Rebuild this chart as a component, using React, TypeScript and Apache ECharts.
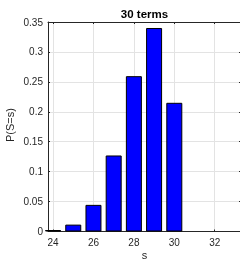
import React, { useEffect, useRef } from "react";
import * as echarts from "echarts";

const sValues = [24, 25, 26, 27, 28, 29, 30];
const probabilities = [0.0025, 0.0115, 0.0445, 0.127, 0.2595, 0.34, 0.215];
const xTickValues = [24, 26, 28, 30, 32];
const titleText = "30 terms";
const xLabel = "s";
const yLabel = "P(S=s)";

const AXIS_COLOR = "#262626";
const GRID_COLOR = "#e3e3e3";
const FONT = "Liberation Sans, Arial, Helvetica, sans-serif";
const X_MIN = 23.75;
const X_MAX = 33.35;

export default function App() {
  const ref = useRef<HTMLDivElement>(null);
  useEffect(() => {
    if (!ref.current) return;
    const chart = echarts.init(ref.current, null, { renderer: "svg" });
    const gridLeft = 48;
    const gridTop = 22;
    const gridWidth = 194;
    const gridHeight = 209.5;
    chart.setOption({
      animation: false,
      textStyle: { fontFamily: FONT },
      grid: {
        left: gridLeft,
        top: gridTop,
        width: gridWidth,
        height: gridHeight,
        containLabel: false,
        outerBoundsMode: "none",
      },
      xAxis: [
        {
          type: "value",
          min: X_MIN,
          max: X_MAX,
          position: "bottom",
          axisLine: { show: true, onZero: false, lineStyle: { color: AXIS_COLOR, width: 1 } },
          axisTick: { show: true, inside: true, length: 2, customValues: xTickValues, lineStyle: { color: AXIS_COLOR } },
          axisLabel: { customValues: xTickValues, color: AXIS_COLOR, fontSize: 10, margin: 6, fontFamily: FONT },
          splitLine: { show: false },
        },
        {
          type: "value",
          min: X_MIN,
          max: X_MAX,
          position: "top",
          axisLine: { show: true, onZero: false, lineStyle: { color: AXIS_COLOR, width: 1 } },
          axisTick: { show: true, inside: true, length: 2, customValues: xTickValues, lineStyle: { color: AXIS_COLOR } },
          axisLabel: { show: false },
          splitLine: { show: false },
        },
      ],
      yAxis: [
        {
          type: "value",
          min: 0,
          max: 0.35,
          interval: 0.05,
          position: "left",
          axisLine: { show: true, onZero: false, lineStyle: { color: AXIS_COLOR, width: 1 } },
          axisTick: { show: true, inside: true, length: 2, lineStyle: { color: AXIS_COLOR } },
          axisLabel: {
            color: AXIS_COLOR,
            fontSize: 10,
            margin: 5,
            fontFamily: FONT,
            formatter: (v: number) => String(+v.toFixed(2)),
          },
          splitLine: { show: true, lineStyle: { color: GRID_COLOR, width: 1 } },
        },
        {
          type: "value",
          min: 0,
          max: 0.35,
          interval: 0.05,
          position: "right",
          axisLine: { show: false },
          axisTick: { show: true, inside: true, length: 3, lineStyle: { color: AXIS_COLOR } },
          axisLabel: { show: false },
          splitLine: { show: false },
        },
      ],
      series: [
        {
          type: "line",
          xAxisIndex: 0,
          yAxisIndex: 0,
          z: 0,
          data: [],
          silent: true,
          markLine: {
            z: 0,
            silent: true,
            symbol: ["none", "none"],
            label: { show: false },
            lineStyle: { color: GRID_COLOR, width: 1, type: "solid" },
            emphasis: { disabled: true },
            data: xTickValues.map((v) => ({ xAxis: v })),
          },
        },
        {
          type: "bar",
          xAxisIndex: 0,
          yAxisIndex: 0,
          z: 3,
          barWidth: 16,
          data: sValues.map((s, i) => [s, probabilities[i]]),
          itemStyle: { color: "#0000ff", borderColor: "#000000", borderWidth: 1 },
          emphasis: { disabled: true },
        },
      ],
      graphic: [
        {
          type: "text",
          x: gridLeft + 193 / 2,
          y: 14,
          style: {
            text: titleText,
            font: `bold 11.5px ${FONT}`,
            fill: "#000000",
            align: "center",
            verticalAlign: "middle",
          },
        },
        {
          type: "text",
          x: gridLeft + 193 / 2,
          y: 255,
          style: { text: xLabel, font: `11px ${FONT}`, fill: AXIS_COLOR, align: "center", verticalAlign: "middle" },
        },
        {
          type: "text",
          x: 10,
          y: 125,
          rotation: Math.PI / 2,
          style: { text: yLabel, font: `11px ${FONT}`, fill: AXIS_COLOR, align: "center", verticalAlign: "middle" },
        },
      ],
    });
    return () => chart.dispose();
  }, []);
  return <div ref={ref} style={{ position: "fixed", left: 0, top: 0, width: 240, height: 261 }} />;
}
